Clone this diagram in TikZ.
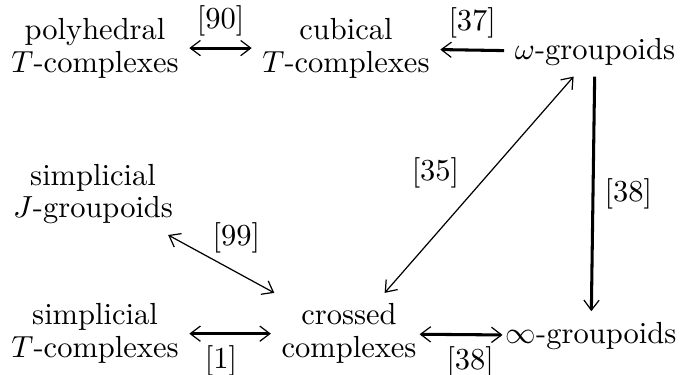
\documentclass[tikz,border=0pt]{standalone}
\usepackage{amsmath}
\usetikzlibrary{arrows.meta}

\begin{document}
\begin{tikzpicture}[scale=1.0,
  >={Straight Barb[length=3.3pt,width=5pt,line width=0.4pt]},
  obj/.style={align=center, font=\fontsize{10}{10.8}\selectfont},
  thickarr/.style={line width=1pt},
  thinarr/.style={line width=0.4pt}]
  \useasboundingbox (0,0) rectangle (7.893,4.310);

  % Top row
  \node[obj] (poly) at (1.095,3.756) {polyhedral\\$T$-complexes};
  \node[obj] (cub) at (3.987,3.756) {cubical\\$T$-complexes};
  \node (omega) at (6.856,3.71) {$\omega$-groupoids};

  % Middle
  \node[obj] (sJ) at (1.072,2.074) {simplicial\\$J$-groupoids};

  % Bottom row
  \node[obj] (sT) at (1.095,0.465) {simplicial\\$T$-complexes};
  \node[obj] (cc) at (4.022,0.465) {crossed\\complexes};
  \node (inf) at (6.810,0.442) {$\infty$-groupoids};

  % Arrows with labels
  \draw[thickarr, <->] (poly) -- (cub) node[midway, above] {[90]};
  \draw[thickarr, ->] (omega) -- (cub) node[midway, above] {[37]};
  \draw[thickarr, ->] (omega) -- (inf) node[midway, right] {[38]};
  \draw[thinarr, <->] (cc) -- (omega) node[midway, left, xshift=-3pt, yshift=4pt] {[35]};
  \draw[thinarr, <->] (sJ) -- (cc) node[midway, above, xshift=5pt] {[99]};
  \draw[thickarr, <->] (sT) -- (cc) node[midway, below, xshift=-3pt] {[1]};
  \draw[thickarr, <->, shorten <=-2.5pt, shorten >=-2.5pt] (cc) -- (inf) node[midway, below, xshift=3pt] {[38]};
\end{tikzpicture}
\end{document}
